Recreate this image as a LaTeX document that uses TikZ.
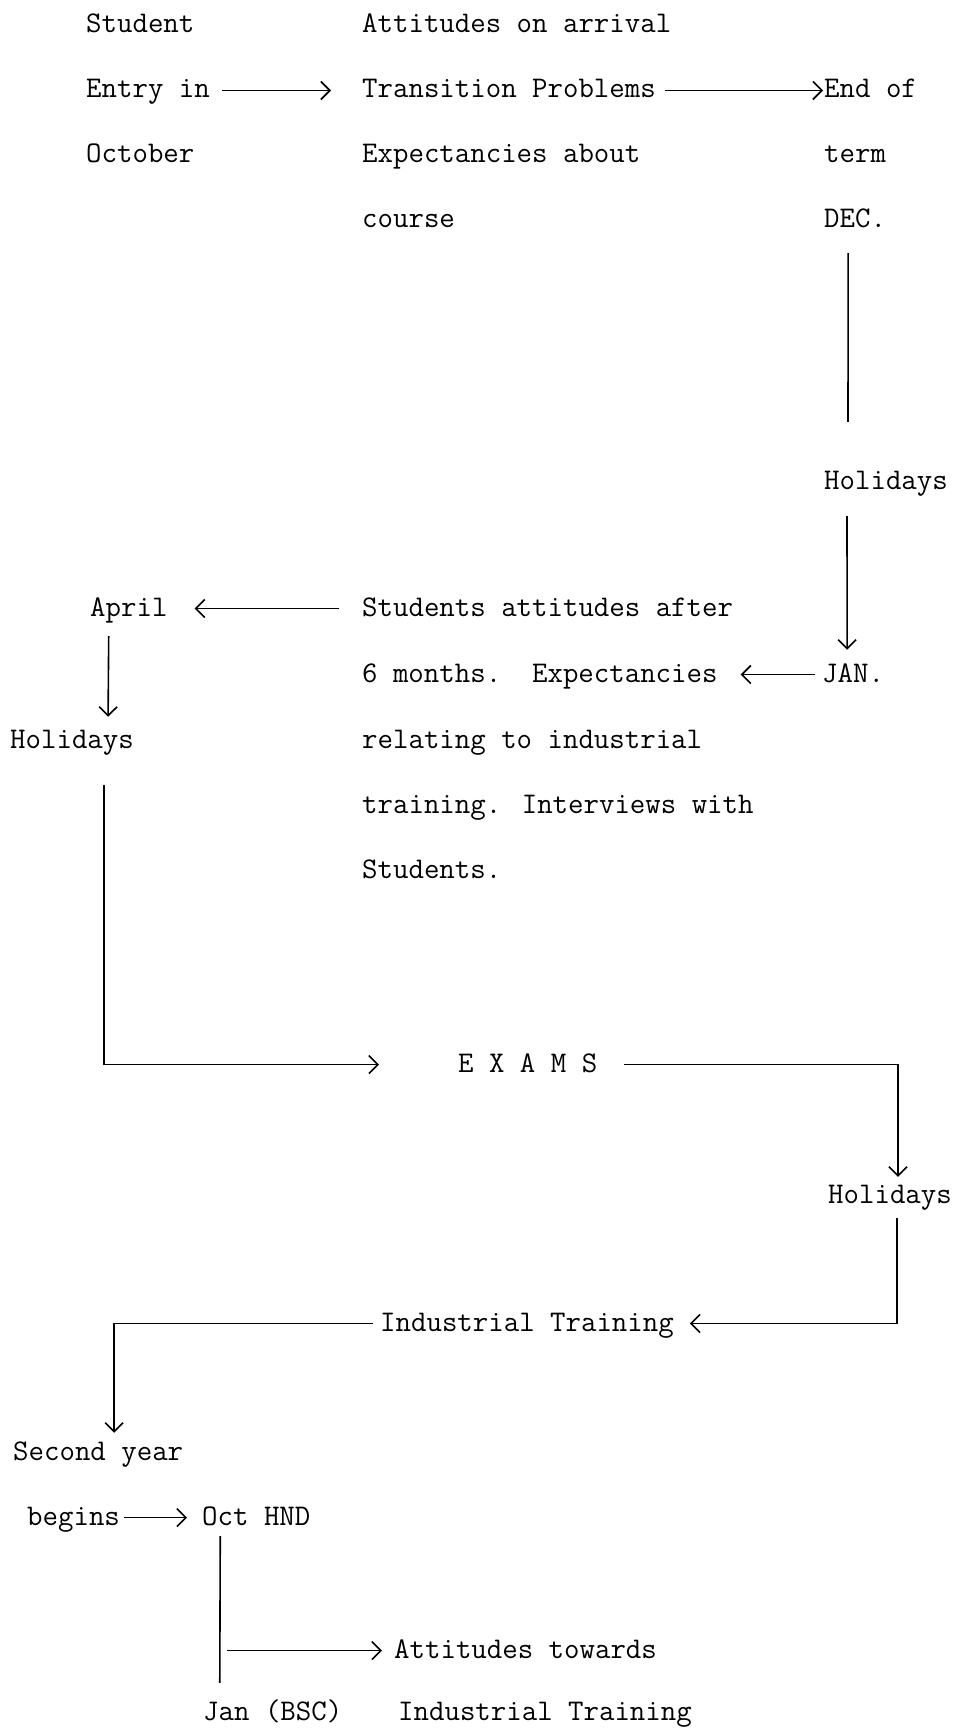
\documentclass[tikz,border=0pt]{standalone}
\usepackage{fontspec}
\usepackage{tikz}
\usetikzlibrary{arrows.meta}
\tikzset{>={Straight Barb[length=9pt,width=18pt]}}
\tikzstyle{txt} = [draw=none, anchor=base west, inner sep=0, text height=20pt, text depth=5pt, font=\ttfamily\fontsize{30}{36}\selectfont]
\tikzstyle{link} = [-, draw=black, line width=1.6pt]
\tikzstyle{arr} = [->, draw=black, line width=1.6pt]

\begin{document}
\begin{tikzpicture}[x=1pt, y=-1pt]
\useasboundingbox (0,0) rectangle (954,1728);
% first term
\node [txt] (stud) at (86, 33) {Student};
\node [txt] (entry) at (86, 98) {Entry in};
\node [txt] (oct) at (86, 163) {October};
\node [txt] (arrive) at (362, 33) {Attitudes on arrival};
\node [txt] (trans) at (362, 98) {Transition Problems};
\node [txt] (expect) at (362, 163) {Expectancies about};
\node [txt] (course) at (362, 228) {course};
\node [txt] (endof) at (824, 98) {End of};
\node [txt] (term) at (824, 163) {term};
\node [txt] (dec) at (824, 228) {DEC.};
\node [txt] (hol1) at (824, 489) {Holidays};
% second term
\node [txt] (april) at (90, 616) {April};
\node [txt] (satt) at (362, 616) {Students attitudes after};
\node [txt] (months) at (362, 682) {6 months.\ \ Expectancies};
\node [txt] (jan) at (822, 682) {JAN.};
\node [txt] (hol2) at (10, 748) {Holidays};
\node [txt] (relat) at (362, 748) {relating to industrial};
\node [txt] (train) at (362, 813) {training. Interviews with};
\node [txt] (studs) at (362, 878) {Students.};
% summer
\node [txt] (exams) at (458, 1072) {E X A M S};
\node [txt] (hol3) at (828, 1203) {Holidays};
\node [txt] (indtr) at (380, 1331) {Industrial Training};
% second year
\node [txt] (second) at (13, 1460) {Second year};
\node [txt] (begins) at (27, 1525) {begins};
\node [txt] (octhnd) at (202, 1525) {Oct HND};
\node [txt] (atttow) at (394, 1658) {Attitudes towards};
\node [txt] (jbsc) at (203, 1720) {Jan (BSC)};
\node [txt] (indtr2) at (398, 1720) {Industrial Training};

\draw [arr, shorten <=12pt, shorten >=31pt] (entry) to (trans);
\draw [arr, shorten <=9pt, shorten >=1pt] (trans) to (endof);
\draw [link, shorten <=20pt, shorten >=47pt] ([xshift=-7pt]dec.south) to ([xshift=-38pt]hol1.north);
\draw [arr, shorten <=22pt, shorten >=12pt] ([xshift=-39pt]hol1.south) to ([xshift=-6pt]jan.north);
\draw [arr, shorten <=7pt, shorten >=23pt] (jan) to (months);
\draw [arr, shorten <=23pt, shorten >=27pt] (satt) to (april);
\draw [arr, shorten <=15pt, shorten >=11pt] ([xshift=-20pt]april.south) to ([xshift=36pt]hol2.north);
\draw [arr, shorten <=32pt, shorten >=79pt] ([xshift=32pt]hol2.south) |- (exams.west);
\draw [arr, shorten <=27pt, shorten >=6pt] (exams.east) -| ([xshift=8pt]hol3.north);
\draw [arr, shorten <=10pt, shorten >=16pt] ([xshift=7pt]hol3.south) |- (indtr.east);
\draw [arr, shorten <=7pt, shorten >=7pt] (indtr.west) -| ([xshift=16pt]second.north);
\draw [arr, shorten <=4pt, shorten >=15pt] (begins) to (octhnd);
\draw [link, shorten <=6pt, shorten >=17pt] ([xshift=-36pt]octhnd.south) to ([xshift=-53pt]jbsc.north);
\coordinate (fork) at (octhnd.south |- atttow.west);
\draw [arr, shorten >=12pt] ([xshift=-29pt]fork) to (atttow.west);
\end{tikzpicture}
\end{document}
